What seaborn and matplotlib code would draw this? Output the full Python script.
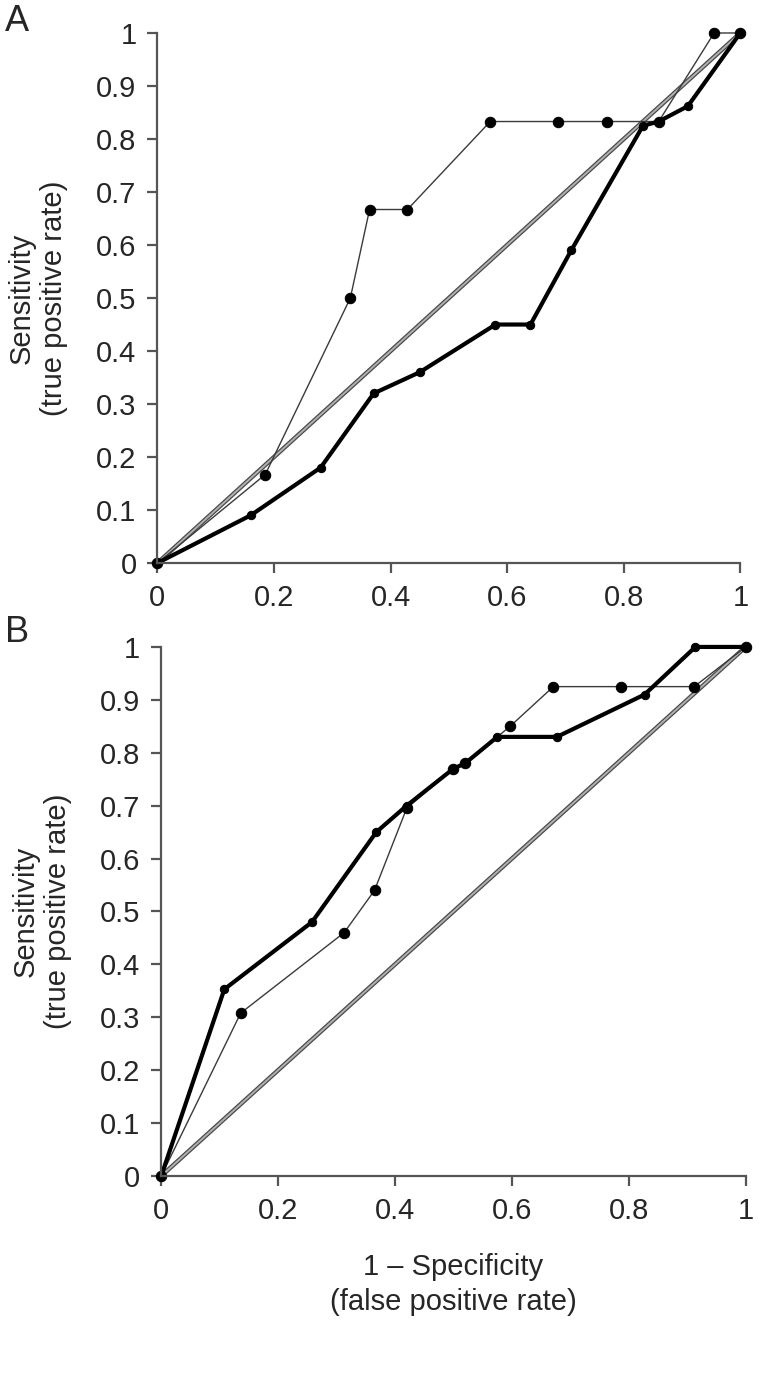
import numpy as np
import pandas as pd
import matplotlib
matplotlib.use("Agg")
import matplotlib.pyplot as plt
import seaborn as sns
from matplotlib.ticker import FuncFormatter, MultipleLocator

# panel A
a_thin_fpr = [0, 0.185, 0.331, 0.364, 0.429, 0.571, 0.688, 0.771, 0.86, 0.955, 1.0]
a_thin_tpr = [0, 0.167, 0.50, 0.667, 0.667, 0.833, 0.833, 0.833, 0.833, 1.0, 1.0]
a_thick_fpr = [0, 0.16, 0.28, 0.371, 0.45, 0.58, 0.64, 0.71, 0.833, 0.86, 0.91, 1.0]
a_thick_tpr = [0, 0.09, 0.18, 0.32, 0.36, 0.45, 0.45, 0.59, 0.825, 0.833, 0.862, 1.0]

# panel B
b_thin_fpr = [0, 0.136, 0.313, 0.365, 0.42, 0.50, 0.52, 0.597, 0.671, 0.786, 0.912, 1.0]
b_thin_tpr = [0, 0.308, 0.46, 0.54, 0.695, 0.77, 0.78, 0.85, 0.925, 0.925, 0.925, 1.0]
b_thick_fpr = [0, 0.108, 0.258, 0.368, 0.42, 0.50, 0.52, 0.575, 0.677, 0.827, 0.914, 1.0]
b_thick_tpr = [0, 0.353, 0.48, 0.65, 0.70, 0.77, 0.78, 0.83, 0.83, 0.91, 1.0, 1.0]

chance = [0, 1]

sns.set_style("white")
plt.rcParams['font.family'] = ['Liberation Sans', 'DejaVu Sans']

fig = plt.figure(figsize=(7.64, 13.75), dpi=100)
ax_a = fig.add_axes([0.206, 0.5905, 0.763, 0.3855])
ax_b = fig.add_axes([0.211, 0.1447, 0.765, 0.3848])


def tick_fmt(v, pos):
    if abs(v) < 1e-9 or abs(v - 1) < 1e-9:
        return f"{int(round(v))}"
    return f"{v:.1f}"


def draw_panel(ax, thin_x, thin_y, thick_x, thick_y, show_xlabel):
    diag = pd.DataFrame({"x": chance, "y": chance})
    sns.lineplot(data=diag, x="x", y="y", ax=ax, color="#4a4a4a", lw=3.2,
                 estimator=None, sort=False)
    sns.lineplot(data=diag, x="x", y="y", ax=ax, color="#b0b0b0", lw=1.4,
                 estimator=None, sort=False)

    thin = pd.DataFrame({"x": thin_x, "y": thin_y})
    sns.lineplot(data=thin, x="x", y="y", ax=ax, color="#3a3a3a", lw=1.0,
                 estimator=None, sort=False, marker="o", markersize=7.5,
                 markerfacecolor="black", markeredgecolor="black", clip_on=False)
    thick = pd.DataFrame({"x": thick_x, "y": thick_y})
    sns.lineplot(data=thick, x="x", y="y", ax=ax, color="black", lw=3.0,
                 estimator=None, sort=False, marker="o", markersize=6,
                 markerfacecolor="black", markeredgecolor="black", clip_on=False)

    ax.set_xlim(0, 1)
    ax.set_ylim(0, 1)
    for s in ["top", "right"]:
        ax.spines[s].set_visible(False)
    for s in ["left", "bottom"]:
        ax.spines[s].set_color("#555555")
        ax.spines[s].set_linewidth(1.6)
    ax.xaxis.set_major_locator(MultipleLocator(0.2))
    ax.yaxis.set_major_locator(MultipleLocator(0.1))
    ax.xaxis.set_major_formatter(FuncFormatter(tick_fmt))
    ax.yaxis.set_major_formatter(FuncFormatter(tick_fmt))
    ax.tick_params(axis="both", which="major", direction="out", length=7, width=1.6,
                   color="#555555", labelsize=21, bottom=True, left=True, pad=8)
    ax.set_ylabel("Sensitivity\n(true positive rate)", fontsize=21, labelpad=20,
                  linespacing=1.2)
    if show_xlabel:
        ax.set_xlabel("1 \u2013 Specificity\n(false positive rate)", fontsize=21,
                      labelpad=20, linespacing=1.35)
    else:
        ax.set_xlabel("")


draw_panel(ax_a, a_thin_fpr, a_thin_tpr, a_thick_fpr, a_thick_tpr, False)
draw_panel(ax_b, b_thin_fpr, b_thin_tpr, b_thick_fpr, b_thick_tpr, True)

fig.text(0.006, 0.997, "A", fontsize=26, va="top", ha="left")
fig.text(0.006, 0.553, "B", fontsize=26, va="top", ha="left")

fig.savefig("out.png", dpi=100)
